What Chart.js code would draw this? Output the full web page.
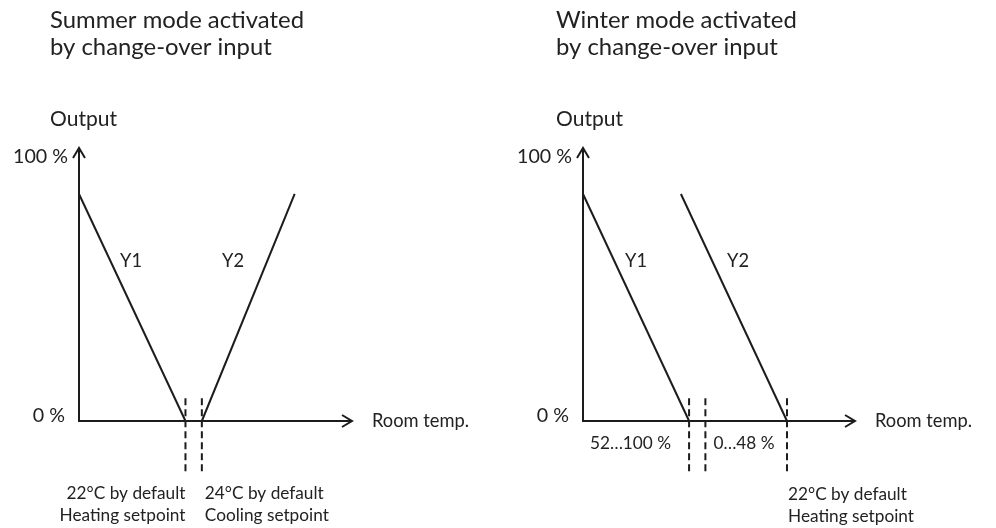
<!DOCTYPE html>
<html><head><meta charset="utf-8">
<script src="https://cdn.jsdelivr.net/npm/chart.js@4"></script>
<style>
html,body{margin:0;padding:0;background:#fff;}
#wrap{position:relative;width:996px;height:528px;overflow:hidden;}
.panel{position:absolute;top:0;width:498px;height:528px;}
</style></head><body>
<div id="wrap">
<div class="panel" style="left:0"><canvas id="c1" width="498" height="528"></canvas></div>
<div class="panel" style="left:498px"><canvas id="c2" width="498" height="528"></canvas></div>
</div>
<script>
// ---- data ----
const yTickValues = [0, 100];
const yTickLabels = ['0 %', '100 %'];
const axisLabelY = 'Output';
const axisLabelX = 'Room temp.';
const xAxisEnd = 100;
const yAxisEnd = 103.4;
const dashRange = [-19, 9];

const summerTitle = ['Summer mode activated', 'by change-over input'];
const summerY1 = [{x: 0, y: 86}, {x: 39, y: 0}];
const summerY2 = [{x: 45, y: 0}, {x: 79, y: 86}];
const summerMarks = [39, 45];
const summerMarkLabels = [['22°C by default', 'Heating setpoint'], ['24°C by default', 'Cooling setpoint']];

const winterTitle = ['Winter mode activated', 'by change-over input'];
const winterY1 = [{x: 0, y: 86}, {x: 39, y: 0}];
const winterY2 = [{x: 36, y: 86}, {x: 75, y: 0}];
const winterMarks = [39, 45, 75];
const winterRangeLabels = ['52…100 %', '0…48 %'];
const winterMarkLabels = [['22°C by default', 'Heating setpoint']];

const seriesNames = ['Y1', 'Y2'];

// ---- styling ----
const INK = '#1c1c1c';
const FAMILY = 'Lato, "Open Sans", sans-serif';

function fitSize(text, width, family) {
  const c = document.createElement('canvas').getContext('2d');
  c.font = '100px ' + family;
  return 100 * width / c.measureText(text).width;
}
const fnt = s => s.toFixed(2) + 'px ' + FAMILY;
const F_TITLE = fnt(fitSize('Summer mode activated', 254, FAMILY));
const F_XLAB = fnt(fitSize('Room temp.', 97, FAMILY));
const F_YLAB = fnt(fitSize('Output', 67, FAMILY));
const F_TICK = fnt(fitSize('100 %', 55, FAMILY));
const F_SER = fnt(fitSize('Y1', 22, FAMILY));
const F_SMALL = fnt(fitSize('Heating setpoint', 126, FAMILY));

function lineDs(data, dash) {
  return {data, showLine: true, borderColor: INK, borderWidth: 2, pointRadius: 0,
    borderDash: dash || [], clip: false, tension: 0, fill: false};
}

function makePanel(canvasId, pad, title, y1, y2, marks, extra) {
  const datasets = [
    lineDs([{x: 0, y: yAxisEnd}, {x: 0, y: 0}, {x: xAxisEnd, y: 0}]),
    lineDs(y1),
    lineDs(y2),
    ...marks.map(m => lineDs([{x: m, y: dashRange[0]}, {x: m, y: dashRange[1]}], [7, 4]))
  ];
  const textPlugin = {
    id: 'txt' + canvasId,
    afterDatasetsDraw(chart) {
      const ctx = chart.ctx, xs = chart.scales.x, ys = chart.scales.y;
      const X = v => xs.getPixelForValue(v), Y = v => ys.getPixelForValue(v);
      ctx.save();
      ctx.strokeStyle = INK; ctx.lineWidth = 2; ctx.lineJoin = 'miter';
      // arrow heads
      ctx.beginPath();
      ctx.moveTo(X(0) - 6, Y(yAxisEnd) + 10); ctx.lineTo(X(0), Y(yAxisEnd)); ctx.lineTo(X(0) + 6, Y(yAxisEnd) + 10);
      ctx.stroke();
      ctx.beginPath();
      ctx.moveTo(X(xAxisEnd) - 10, Y(0) - 6); ctx.lineTo(X(xAxisEnd), Y(0)); ctx.lineTo(X(xAxisEnd) - 10, Y(0) + 6);
      ctx.stroke();
      ctx.fillStyle = '#222';
      ctx.textBaseline = 'middle';
      ctx.textAlign = 'left';
      ctx.font = F_TITLE;
      ctx.fillText(title[0], X(0) - pad.titleOff, 20);
      ctx.fillText(title[1], X(0) - pad.titleOff, 47);
      ctx.font = F_YLAB;
      ctx.fillText(axisLabelY, X(0) - pad.titleOff, 119);
      ctx.font = F_XLAB;
      ctx.fillText(axisLabelX, X(xAxisEnd) + 20, Y(0));
      ctx.font = F_TICK;
      ctx.textAlign = 'right';
      ctx.fillText(yTickLabels[1], X(0) - 11, Y(yTickValues[1]));
      ctx.fillText(yTickLabels[0], X(0) - 14, Y(yTickValues[0]) - 5);
      ctx.font = F_SER;
      ctx.textAlign = 'left';
      ctx.fillText(seriesNames[0], pad.y1x, 261);
      ctx.fillText(seriesNames[1], pad.y2x, 261);
      ctx.font = F_SMALL;
      extra(ctx, X, Y);
      ctx.restore();
    }
  };
  return new Chart(document.getElementById(canvasId), {
    type: 'scatter',
    data: {datasets},
    options: {
      responsive: false, animation: false, devicePixelRatio: 1,
      layout: {padding: {left: pad.left, right: pad.right, top: 157, bottom: 107}},
      scales: {
        x: {type: 'linear', min: 0, max: xAxisEnd, display: false},
        y: {type: 'linear', min: 0, max: 100, display: false}
      },
      plugins: {legend: {display: false}, tooltip: {enabled: false}, title: {display: false}}
    },
    plugins: [textPlugin]
  });
}

makePanel('c1', {left: 79, right: 146, titleOff: 29, y1x: 120, y2x: 222}, summerTitle, summerY1, summerY2, summerMarks,
  (ctx, X) => {
    ctx.textAlign = 'right';
    ctx.fillText(summerMarkLabels[0][0], X(summerMarks[0]), 493);
    ctx.fillText(summerMarkLabels[0][1], X(summerMarks[0]), 515);
    ctx.textAlign = 'left';
    ctx.fillText(summerMarkLabels[1][0], X(summerMarks[1]) + 3, 493);
    ctx.fillText(summerMarkLabels[1][1], X(summerMarks[1]) + 3, 515);
  });

makePanel('c2', {left: 85, right: 141, titleOff: 27, y1x: 127, y2x: 229}, winterTitle, winterY1, winterY2, winterMarks,
  (ctx, X) => {
    ctx.textAlign = 'right';
    ctx.fillText(winterRangeLabels[0], X(winterMarks[0]) - 18, 443);
    ctx.textAlign = 'left';
    ctx.fillText(winterRangeLabels[1], X(winterMarks[1]) + 8, 443);
    ctx.fillText(winterMarkLabels[0][0], X(winterMarks[2]) + 1, 494);
    ctx.fillText(winterMarkLabels[0][1], X(winterMarks[2]) + 1, 516);
  });
</script>
</body></html>
